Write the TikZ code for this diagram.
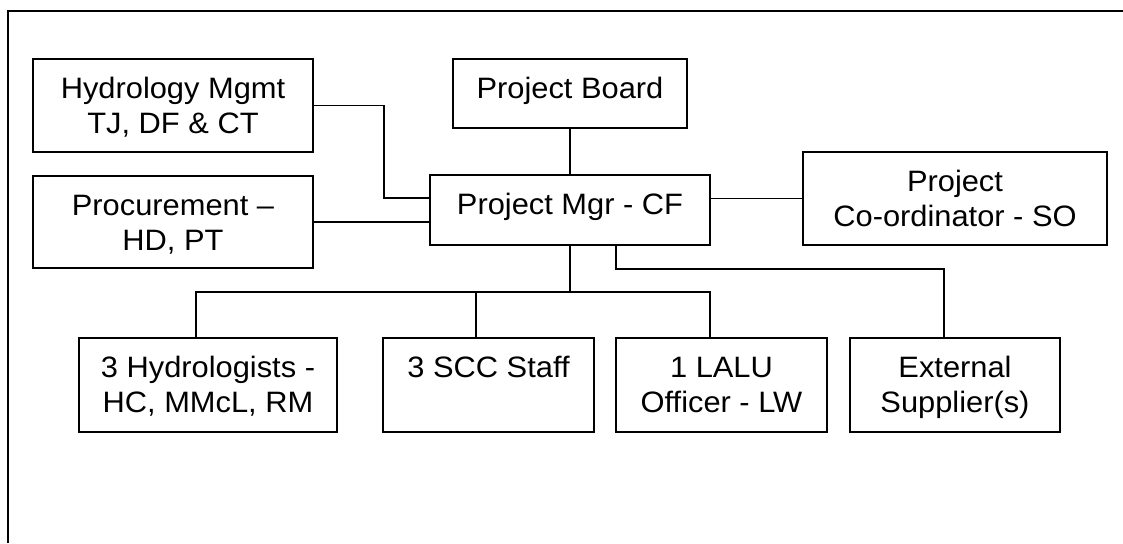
\documentclass[tikz,border=0pt]{standalone}
\usepackage{fontspec}
\setmainfont{Liberation Sans}[FakeStretch=1.045]
\newcommand\bx[3]{\parbox[c][#2][t]{#1}{\centering\fontsize{29.5}{35}\selectfont\rule{0pt}{39pt}#3\par}}
\begin{document}
\begin{tikzpicture}[x=1pt,y=-1pt,
  box/.style={draw, line width=1.8pt, inner sep=0pt},
  conn/.style={line width=1.3pt}]
\useasboundingbox (0,0) rectangle (1123,543);
\draw[line width=1.8pt] (8,543) -- (8,11) -- (1123,11);
\node[box] (hyd)    at (173,105.5) {\bx{280pt}{93pt}{Hydrology Mgmt\\TJ, DF \& CT}};
\node[box] (proc)   at (173,222)   {\bx{280pt}{92pt}{Procurement --\\HD, PT}};
\node[box] (board)  at (570,93.5)  {\bx{234pt}{69pt}{Project Board}};
\node[box] (mgr)    at (570,210)   {\bx{280pt}{70pt}{Project Mgr - CF}};
\node[box] (coord)  at (955,198.5) {\bx{304pt}{93pt}{Project\\Co-ordinator - SO}};
\node[box] (hydro3) at (208,385)   {\bx{258pt}{94pt}{3 Hydrologists -\\HC, MMcL, RM}};
\node[box] (scc)    at (488.5,385) {\bx{211pt}{94pt}{3 SCC Staff}};
\node[box] (lalu)   at (721.5,385) {\bx{211pt}{94pt}{1 LALU\\Officer - LW}};
\node[box] (ext)    at (955,385)   {\bx{210pt}{94pt}{External\\Supplier(s)}};
\coordinate (bus) at (0,292);
\draw[conn] (hyd.east) -- ++(70,0) |- ([yshift=12pt]mgr.west);
\draw[conn] (proc.east) -- (proc.east -| mgr.west);
\draw[conn] (board) -- (mgr);
\draw[conn] (coord.west) -- (coord.west -| mgr.east);
\draw[conn] (mgr.south) -- (mgr.south |- bus);
\draw[conn] ([xshift=-12pt]hydro3.north) -- ([xshift=-12pt]hydro3.north |- bus) -- ([xshift=-11.5pt]lalu.north |- bus) -- ([xshift=-11.5pt]lalu.north);
\draw[conn] ([xshift=-12.5pt]scc.north) -- ([xshift=-12.5pt]scc.north |- bus);
\draw[conn] ([xshift=46pt]mgr.south) -- ++(0,23) -| ([xshift=-11pt]ext.north);
\end{tikzpicture}
\end{document}
